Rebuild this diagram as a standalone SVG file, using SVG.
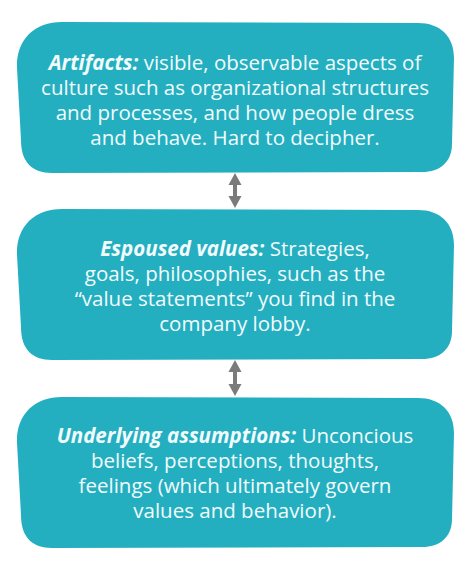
<svg xmlns="http://www.w3.org/2000/svg" width="470" height="572" viewBox="0 0 470 572">
<style>
.box{fill:#24afc1}
text{font-family:"Open Sans","Noto Sans","Liberation Sans",sans-serif;font-size:20.5px;fill:#f2fbfc;text-anchor:middle}
.b{font-weight:bold;font-style:italic}
.arr{stroke:#7b7b7b;stroke-width:4;fill:none}
.head{fill:#7b7b7b}
</style>
<defs>
<path id="shape" d="M62,0 L418,1 C440,1 454,14 454,36 L452,122 C452,140 440,150 422,150 L52,151 C32,151 21,140 21,118 L17,46 C16,18 34,0 62,0 Z"/>
</defs>
<rect width="470" height="572" fill="#ffffff"/>
<g id="connectors">
<g id="arrow1">
<line class="arr" x1="235" y1="182" x2="235" y2="199"/>
<polygon class="head" points="235,173 241.5,185 228.5,185"/>
<polygon class="head" points="235,208 241.5,196 228.5,196"/>
</g>
<g id="arrow2">
<line class="arr" x1="235" y1="369" x2="235" y2="387"/>
<polygon class="head" points="235,360 241.5,372 228.5,372"/>
<polygon class="head" points="235,396 241.5,384 228.5,384"/>
</g>
</g>
<g id="artifacts">
<use href="#shape" class="box" transform="translate(0,22)"/>
<text x="235" y="70"><tspan class="b">Artifacts:</tspan> visible, observable aspects of<tspan x="235" dy="25">culture such as organizational structures</tspan><tspan x="235" dy="25">and processes, and how people dress</tspan><tspan x="235" dy="25">and behave. Hard to decipher.</tspan></text>
</g>
<g id="espoused">
<use href="#shape" class="box" transform="translate(0,209)"/>
<text x="235" y="256"><tspan class="b">Espoused values:</tspan> Strategies,<tspan x="235" dy="25">goals, philosophies, such as the</tspan><tspan x="235" dy="25">“value statements” you find in the</tspan><tspan x="235" dy="25">company lobby.</tspan></text>
</g>
<g id="assumptions">
<use href="#shape" class="box" transform="translate(0,397)"/>
<text x="235" y="443"><tspan class="b">Underlying assumptions:</tspan> Unconcious<tspan x="235" dy="25">beliefs, perceptions, thoughts,</tspan><tspan x="235" dy="25">feelings (which ultimately govern</tspan><tspan x="235" dy="25">values and behavior).</tspan></text>
</g>
</svg>
